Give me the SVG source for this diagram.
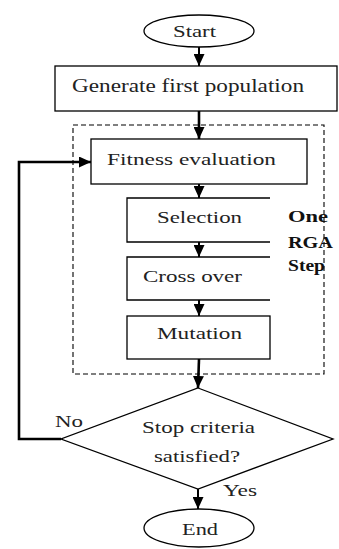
<svg xmlns="http://www.w3.org/2000/svg" width="339" height="549" viewBox="0 0 339 549">
<style>
.box{fill:#fff;stroke:#000;stroke-width:1.3}
.open{fill:none;stroke:#000;stroke-width:1.3}
.t{font-family:"Liberation Serif","Times New Roman",serif;font-size:17px;fill:#222}
.b{font-family:"Liberation Serif","Times New Roman",serif;font-size:16px;font-weight:bold;fill:#111}
.c{fill:none;stroke:#000;stroke-width:2}
.ct{fill:none;stroke:#000;stroke-width:2.6}
</style>
<defs>
<marker id="ah" markerUnits="userSpaceOnUse" markerWidth="12" markerHeight="11" refX="12" refY="5.5" orient="auto">
<path d="M0,0 L12,5.5 L0,11 z" fill="#000"/>
</marker>
</defs>
<g id="rga-step">
<rect x="73" y="125" width="251" height="249" fill="none" stroke="#000" stroke-width="1.1" stroke-dasharray="5,3"/>
<text class="b" x="288" y="222" textLength="40" lengthAdjust="spacingAndGlyphs">One</text>
<text class="b" x="288" y="248" textLength="45" lengthAdjust="spacingAndGlyphs">RGA</text>
<text class="b" x="288" y="271" textLength="37" lengthAdjust="spacingAndGlyphs">Step</text>
</g>
<g id="start">
<ellipse cx="199" cy="31" rx="55" ry="16" class="box"/>
<text class="t" x="173" y="37" textLength="43" lengthAdjust="spacingAndGlyphs">Start</text>
</g>
<g id="generate">
<rect x="55" y="66" width="282" height="45" class="box"/>
<text class="t" x="72" y="92" font-size="19" textLength="232" lengthAdjust="spacingAndGlyphs" style="font-size:19px">Generate first population</text>
</g>
<g id="fitness">
<rect x="91" y="139" width="216" height="45" class="box"/>
<text class="t" x="107" y="165" textLength="169" lengthAdjust="spacingAndGlyphs">Fitness evaluation</text>
</g>
<g id="selection">
<path d="M270,198 H127 V242 H270" class="open"/>
<text class="t" x="157" y="223" textLength="85" lengthAdjust="spacingAndGlyphs">Selection</text>
</g>
<g id="crossover">
<path d="M270,257 H127 V300 H270" class="open"/>
<text class="t" x="143" y="282" textLength="99" lengthAdjust="spacingAndGlyphs">Cross over</text>
</g>
<g id="mutation">
<rect x="127" y="316" width="143" height="43" class="box"/>
<text class="t" x="157" y="339" textLength="85" lengthAdjust="spacingAndGlyphs">Mutation</text>
</g>
<g id="decision">
<polygon points="198,388 333,439 198,489 61,439" class="box"/>
<text class="t" x="142" y="433" textLength="113" lengthAdjust="spacingAndGlyphs">Stop criteria</text>
<text class="t" x="154" y="462" textLength="86" lengthAdjust="spacingAndGlyphs">satisfied?</text>
</g>
<g id="end">
<ellipse cx="199" cy="528" rx="55" ry="19" class="box"/>
<text class="t" x="182" y="535" textLength="36" lengthAdjust="spacingAndGlyphs">End</text>
</g>
<g id="connectors">
<line x1="199" y1="47" x2="199" y2="66" class="c" marker-end="url(#ah)"/>
<line x1="199" y1="111" x2="199" y2="139" class="ct" marker-end="url(#ah)"/>
<line x1="199" y1="184" x2="199" y2="198" class="c" marker-end="url(#ah)"/>
<line x1="199" y1="242" x2="199" y2="257" class="c" marker-end="url(#ah)"/>
<line x1="199" y1="300" x2="199" y2="316" class="c" marker-end="url(#ah)"/>
<line x1="199" y1="359" x2="198" y2="388" class="ct" marker-end="url(#ah)"/>
<line x1="198" y1="489" x2="198" y2="509" class="c" marker-end="url(#ah)"/>
<path d="M61,439 H19 V162 H91" class="ct" marker-end="url(#ah)"/>
<text class="t" x="55" y="427" textLength="28" lengthAdjust="spacingAndGlyphs">No</text>
<text class="t" x="223" y="496" textLength="34" lengthAdjust="spacingAndGlyphs">Yes</text>
</g>
</svg>
